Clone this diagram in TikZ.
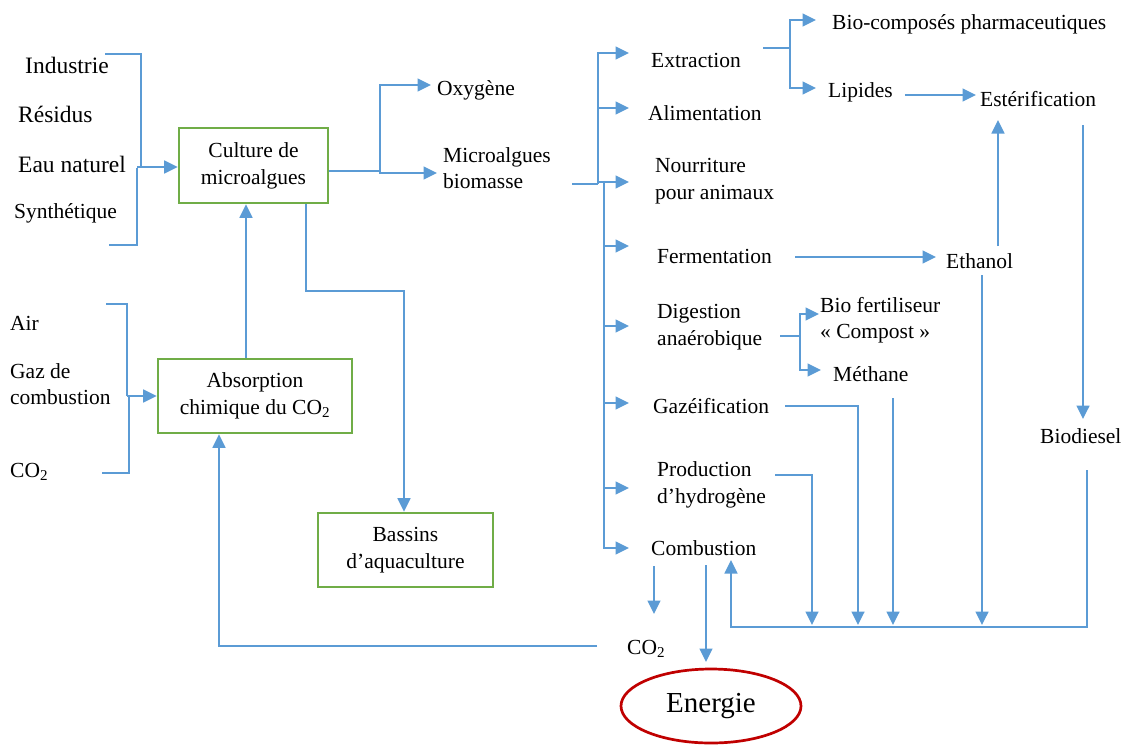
\documentclass[tikz,border=0pt]{standalone}
\usepackage{fontspec}
\setmainfont{Liberation Serif}
\usetikzlibrary{arrows.meta,shapes.geometric}
\definecolor{flow}{RGB}{91,155,213}
\definecolor{boxgreen}{RGB}{112,173,71}
\definecolor{energyred}{RGB}{192,0,0}
\begin{document}
\begin{tikzpicture}[x=1pt,y=-1pt,
  lbl/.style={anchor=west,inner sep=0pt,align=left,font=\fontsize{21.5}{26.5}\selectfont},
  biglbl/.style={lbl,font=\fontsize{23.5}{28}\selectfont},
  gbox/.style={draw=boxgreen,line width=2.7pt,align=center,inner sep=0pt,
    font=\fontsize{21.5}{27}\selectfont},
  wire/.style={draw=flow,line width=1.7pt},
  arr/.style={wire,-{Triangle[length=13.5pt,width=13pt]}}]
\useasboundingbox (0,0) rectangle (1131,747);

% inputs on the left
\node[biglbl] (ind) at (25,65) {Industrie};
\node[biglbl] (res) at (18,114) {Résidus};
\node[biglbl] (eau) at (18,164) {Eau naturel};
\node[lbl] (syn) at (14,213) {Synthétique};
\node[lbl] (air) at (10,323) {Air};
\node[lbl] (gaz) at (10,384) {Gaz de\\combustion};
\node[lbl] (co2in) at (10,472) {CO\textsubscript{2}};

% process boxes
\node[gbox,minimum width=149pt,minimum height=75pt] (culture) at (253.5,165.5) {Culture de\\microalgues};
\node[gbox,minimum width=194pt,minimum height=74pt] (absorb) at (255,396) {Absorption\\chimique du CO\textsubscript{2}};
\node[gbox,minimum width=175pt,minimum height=74pt] (bassins) at (405.5,550) {Bassins\\d’aquaculture};

% products of the culture
\node[lbl] (oxy) at (437,90) {Oxygène};
\node[lbl] (bio) at (443,168) {Microalgues\\biomasse};

% uses of the biomass
\node[lbl] (extr) at (651,60) {Extraction};
\node[lbl] (alim) at (648,113) {Alimentation};
\node[lbl] (nour) at (655,181) {Nourriture\\pour animaux};
\node[lbl] (ferm) at (657,256) {Fermentation};
\node[lbl] (dig) at (657,327) {Digestion\\anaérobique};
\node[lbl] (gazei) at (653,406) {Gazéification};
\node[lbl] (prod) at (657,485) {Production\\d’hydrogène};
\node[lbl] (comb) at (651,548) {Combustion};

% derived products
\node[lbl] (pharma) at (832,24) {Bio-composés pharmaceutiques};
\node[lbl] (lip) at (828,92) {Lipides};
\node[lbl] (est) at (980,99) {Estérification};
\node[lbl] (eth) at (946,261) {Ethanol};
\node[lbl] (biof) at (820,320) {Bio fertiliseur\\« Compost »};
\node[lbl] (meth) at (833,374) {Méthane};
\node[lbl] (biod) at (1040,436) {Biodiesel};
\node[lbl] (co2out) at (627,649) {CO\textsubscript{2}};

\node[ellipse,draw=energyred,line width=2.7pt,minimum width=180pt,minimum height=74pt,
  inner sep=0pt,font=\fontsize{29}{34}\selectfont] (energie) at (711,706) {Energie};

% bracket of the water sources
\coordinate (wTop) at (105,54);
\coordinate (wBot) at (109,245);
\draw[wire] (wTop) -| (141,167);
\draw[wire] (wBot) -| (137,168);
\draw[arr] (137,167) -- (culture.west |- 0,167);

% bracket of the gas sources
\coordinate (gTop) at (106,304);
\coordinate (gBot) at (102,473);
\draw[wire] (gTop) -| (127,396);
\draw[wire] (gBot) -| (129,397);
\draw[arr] (127,396) -- (absorb.west);

% absorption feeds the culture
\draw[arr] (absorb.north -| 246,0) -- (culture.south -| 246,0);

% culture to aquaculture ponds
\draw[arr] (culture.south -| 306,0) -- (306,291) -| (bassins.north -| 404,0);

% recycled CO2
\coordinate (co2back) at (597,646);
\draw[arr] (co2back) -| (absorb.south -| 219,0);

% culture outputs
\coordinate (cSplit) at (380,171);
\draw[wire] (culture.east |- cSplit) -- (cSplit);
\draw[arr] (cSplit) |- (431,85);
\draw[arr] (cSplit) |- (437,173);

% biomass distribution trunk
\coordinate (bTrunk) at (598,184);
\draw[wire] (572,184) -- (bTrunk);
\draw[arr] (bTrunk) |- (629,53);
\draw[arr] (598,108) -- (629,108);
\draw[arr] (598,182) -- (629,182);
\coordinate (bLow) at (604,183);
\draw[arr] (bLow) |- (629,548);
\draw[arr] (604,246) -- (629,246);
\draw[arr] (604,326) -- (629,326);
\draw[arr] (604,403) -- (629,403);
\draw[arr] (604,488) -- (629,488);

% extraction branches
\coordinate (eSplit) at (790,48);
\draw[wire] (763,48) -- (eSplit);
\draw[arr] (eSplit) |- (816,20);
\draw[arr] (eSplit) |- (816,88);
\draw[arr] (lip.east |- 0,95) ++(12,0) -- (976,95);

% fermentation and esterification
\draw[arr] (795,257) -- (936,257);
\draw[arr] (998,246) -- (998,120);
\draw[arr] (1083,125) -- (1083,419);

% anaerobic digestion branches
\coordinate (dSplit) at (800,336);
\draw[wire] (780,336) -- (dSplit);
\draw[arr] (dSplit) |- (819,314);
\draw[arr] (dSplit) |- (821,370);

% fuels collected back to combustion
\draw[arr] (1087,470) -- (1087,627) -- (731,627) -- (731,560);
\draw[arr] (775,475) -| (812,625);
\draw[arr] (785,406) -| (858,625);
\draw[arr] (893,398) -- (893,625);
\draw[arr] (982,275) -- (982,625);

% combustion outputs
\draw[arr] (654,566) -- (654,614);
\draw[arr] (706,565) -- (706,662);
\end{tikzpicture}
\end{document}
